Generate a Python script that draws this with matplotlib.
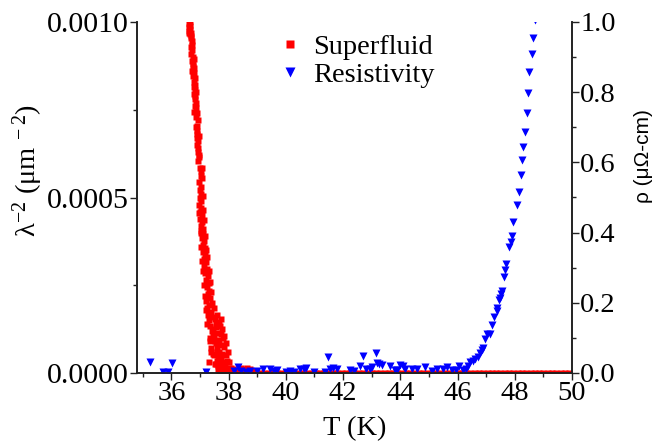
import numpy as np
import matplotlib
matplotlib.use("Agg")
import matplotlib.pyplot as plt
from matplotlib.ticker import MultipleLocator, FormatStrFormatter
from matplotlib.lines import Line2D

plt.rcParams['font.family'] = ['Liberation Serif', 'DejaVu Serif']
plt.rcParams['mathtext.fontset'] = 'custom'
plt.rcParams['mathtext.rm'] = 'Liberation Serif'
plt.rcParams['mathtext.it'] = 'Liberation Serif:italic'

# ---- Superfluid density (left axis), lambda^-2 in units of 1e-4 um^-2 ----
sf_T = [36.65, 36.62, 36.64, 36.60, 36.66, 36.63, 36.68, 36.65, 36.70, 36.67,
        36.72, 36.72, 36.73, 36.74, 36.73, 36.76, 36.74, 36.78, 36.76, 36.80,
        36.77, 36.81, 36.78, 36.82, 36.79, 36.83, 36.80, 36.84, 36.82, 36.86,
        36.83, 36.87, 36.88, 36.87, 36.89, 36.88, 36.91, 36.89, 36.93, 36.91,
        36.94, 36.92, 36.95, 36.93, 37.00, 37.04, 37.02, 37.05, 37.00, 37.03,
        36.99, 37.02, 36.98, 37.03, 37.00, 37.06, 37.01, 37.08, 37.03, 37.10,
        37.05, 37.12, 37.07, 37.14, 37.09, 37.16, 37.11, 37.18, 37.13, 37.22,
        37.15, 37.25, 37.18, 37.28, 37.20, 37.30, 37.24, 37.33, 37.27, 37.36,
        37.20, 37.30, 37.25, 37.40, 37.28, 37.45, 37.32, 37.52, 37.60, 37.66,
        37.70, 37.55, 37.35, 37.42, 37.62, 37.75, 37.48, 37.68, 37.80, 37.55,
        37.72, 37.40, 37.60, 37.85, 37.65, 37.78, 37.50, 37.90, 37.70, 37.58,
        37.82, 37.95, 37.62, 37.75, 37.88, 38.00, 37.68, 37.80, 37.92, 38.05,
        38.15, 38.30, 38.45, 38.55, 38.65, 38.75, 38.85, 37.46, 37.52, 37.58,
        37.64, 37.57, 37.63, 37.69, 37.74, 37.86, 37.93, 38.02, 38.10, 37.34,
        37.38, 37.31,
        36.62, 36.70, 36.68, 36.78, 36.72, 36.86, 36.80, 36.92, 36.85, 36.95,
        36.97, 37.06, 37.08, 36.98, 37.10, 36.97, 37.12, 37.15, 37.02, 37.18,
        37.05, 37.22, 37.08, 37.25, 37.10, 37.32, 37.15, 37.36, 37.18, 37.40,
        37.22, 37.42, 37.48, 37.26, 37.55, 37.72, 37.78, 37.45, 37.85, 37.35,
        37.92, 37.45, 37.98, 37.52, 38.02, 38.08, 38.20, 38.40, 38.60]
sf_val = [10.0, 9.95, 9.9, 9.85, 9.8, 9.75, 9.7, 9.65, 9.6, 9.55,
          9.45, 9.35, 9.2, 9.0, 8.9, 8.8, 8.75, 8.7, 8.6, 8.55,
          8.45, 8.4, 8.3, 8.2, 8.15, 8.05, 7.95, 7.9, 7.8, 7.7,
          7.6, 7.55, 7.4, 7.3, 7.05, 6.9, 6.8, 6.7, 6.6, 6.5,
          6.4, 6.3, 6.15, 6.05, 5.85, 5.75, 5.6, 5.3, 5.2, 5.1,
          5.0, 4.9, 4.8, 4.7, 4.6, 4.5, 4.4, 4.3, 4.2, 4.1,
          4.0, 3.95, 3.85, 3.75, 3.65, 3.55, 3.45, 3.35, 3.25, 3.15,
          3.05, 2.95, 2.85, 2.75, 2.65, 2.55, 2.45, 2.35, 2.25, 2.15,
          2.05, 1.95, 1.85, 1.75, 1.65, 1.6, 1.5, 1.55, 1.65, 1.45,
          1.35, 1.3, 1.35, 1.2, 1.15, 1.1, 1.0, 0.95, 1.0, 0.85,
          0.8, 0.7, 0.7, 0.75, 0.6, 0.55, 0.5, 0.5, 0.4, 0.35,
          0.3, 0.35, 0.2, 0.15, 0.2, 0.15, 0.05, 0.0, 0.05, 0.05,
          0.1, 0.05, 0.15, 0.1, 0.15, 0.1, 0.05, 1.25, 0.9, 0.6,
          0.45, 0.25, 0.1, 0.25, 0.45, 0.15, 0.1, 0.08, 0.04, 1.0,
          0.6, 0.3,
          9.7, 9.3, 9.1, 8.95, 8.6, 8.0, 7.45, 7.2, 7.0, 6.75,
          6.2, 5.85, 5.55, 5.45, 5.05, 4.55, 4.65, 4.35, 4.05, 3.9,
          3.6, 3.5, 3.2, 3.3, 2.9, 2.9, 2.5, 2.6, 2.2, 2.3,
          1.8, 2.0, 1.85, 1.4, 1.4, 1.55, 1.25, 1.1, 1.05, 0.9,
          0.85, 0.55, 0.6, 0.25, 0.3, 0.15, 0.08, 0.08, 0.05]
# zero tail of the superfluid signal above Tc
sf_tail_T = [38.95, 39.10, 39.25, 39.40, 39.55, 39.70, 39.85, 40.00, 40.15, 40.30,
             40.45, 40.60, 40.75, 40.90, 41.05, 41.20, 41.35, 41.50, 41.65, 41.80,
             41.95, 42.10, 42.25, 42.40, 42.55, 42.70, 42.85, 43.00, 43.15, 43.30,
             43.45, 43.60, 43.75, 43.90, 44.05, 44.20, 44.35, 44.50, 44.65, 44.80,
             44.95, 45.10, 45.25, 45.40, 45.55, 45.70, 45.85, 46.00, 46.15, 46.30,
             46.45, 46.60, 46.75, 46.90, 47.05, 47.20, 47.35, 47.50, 47.65, 47.80,
             47.95, 48.10, 48.25, 48.40, 48.55, 48.70, 48.85, 49.00, 49.15, 49.30,
             49.45, 49.60, 49.75, 49.90]
sf_tail_val = [0.0] * len(sf_tail_T)

# ---- Resistivity (right axis), uOhm-cm ----
rho_T = [35.27, 35.70, 35.90, 36.04, 37.20, 38.20, 38.33, 38.45, 38.60, 38.75,
         39.00, 39.20, 39.45, 39.60, 39.70, 40.00, 40.15, 40.30, 40.50, 40.65,
         40.70, 41.00, 41.37, 41.46, 41.55, 41.65, 41.80, 42.25, 42.40, 42.60,
         42.70, 42.80, 42.95, 43.00, 43.15, 43.17, 43.25, 43.35, 43.64, 43.80,
         43.90, 44.00, 44.10, 44.15, 44.40, 44.60, 44.85, 45.10, 45.30, 45.50,
         45.62, 45.80, 45.95, 46.05, 46.20, 46.30, 46.37, 46.44, 46.55, 46.62,
         46.70, 46.78, 46.85, 46.90, 46.96, 47.03, 47.12, 47.20, 47.28, 47.37,
         47.39, 47.45, 47.47, 47.51, 47.56, 47.63, 47.66, 47.70, 47.81, 47.86,
         47.90, 47.95, 48.08, 48.15, 48.21, 48.24, 48.28, 48.37, 48.42, 48.45,
         48.51, 48.60, 48.65, 48.70]
rho_val = [0.032, 0.004, 0.004, 0.029, 0.002, 0.006, 0.018, 0.005, 0.004, 0.006,
           0.005, 0.012, 0.010, 0.006, 0.009, 0.004, 0.005, 0.004, 0.012, 0.010,
           0.013, 0.004, 0.004, 0.046, 0.012, 0.015, 0.010, 0.008, 0.007, 0.020,
           0.048, 0.010, 0.012, 0.018, 0.056, 0.028, 0.025, 0.022, 0.020, 0.008,
           0.009, 0.022, 0.021, 0.010, 0.012, 0.010, 0.017, 0.006, 0.010, 0.010,
           0.018, 0.008, 0.008, 0.020, 0.009, 0.010, 0.020, 0.032, 0.035, 0.040,
           0.047, 0.057, 0.065, 0.072, 0.097, 0.110, 0.112, 0.137, 0.160, 0.177,
           0.184, 0.208, 0.213, 0.225, 0.234, 0.274, 0.293, 0.310, 0.358, 0.372,
           0.390, 0.431, 0.479, 0.517, 0.564, 0.607, 0.645, 0.686, 0.740, 0.797,
           0.858, 0.909, 0.953, 1.005]

x_ticks = [36, 38, 40, 42, 44, 46, 48, 50]

fig = plt.figure(figsize=(6.56, 4.44), dpi=100)
ax1 = fig.add_axes([137/656, 1-373/444, (572-137)/656, (373-22)/444])
ax2 = ax1.twinx()

sf_all_T = np.array(sf_T + sf_tail_T)
sf_all_val = np.array(sf_val + sf_tail_val) * 1e-4
ax1.plot(sf_all_T, sf_all_val, 's', color='#ff0000', ms=4.2, mec='none')
ax2.plot(rho_T, rho_val, 'v', color='#0000ff', ms=5.6, mec='none')

ax1.set_xlim(34.8, 50)
ax1.set_ylim(0, 0.001)
ax2.set_ylim(0, 1.0)

ax1.set_xticks(x_ticks)
ax1.xaxis.set_minor_locator(MultipleLocator(1))
ax1.set_yticks([0, 0.0005, 0.001])
ax1.yaxis.set_minor_locator(MultipleLocator(0.00025))
ax1.yaxis.set_major_formatter(FormatStrFormatter('%.4f'))
ax2.yaxis.set_major_locator(MultipleLocator(0.2))
ax2.yaxis.set_minor_locator(MultipleLocator(0.1))
ax2.yaxis.set_major_formatter(FormatStrFormatter('%.1f'))

for ax in (ax1, ax2):
    ax.spines['top'].set_visible(False)
    for s in ax.spines.values():
        s.set_linewidth(1.2)
        s.set_color('#222222')
    ax.tick_params(which='major', direction='out', length=5, width=1.0, labelsize=20.5, color='#222222', pad=1)
    ax.tick_params(which='minor', direction='out', length=3, width=1.0, color='#222222')
ax1.tick_params(axis='y', which='major', labelsize=21.5)

ax1.set_xlabel('T (K)', fontsize=20.5, labelpad=7)
ax1.set_ylabel(r'λ$^{\mathrm{-2}}$ (μm$^{\mathrm{\ -2}}$)', fontsize=20.5)
ax1.yaxis.set_label_coords(-0.212, 0.578)
ax2.set_ylabel('ρ (μΩ-cm)', fontsize=15, family=['Liberation Sans', 'DejaVu Sans'])
ax2.yaxis.set_label_coords(1.142, 0.618)

handles = [Line2D([], [], ls='none', marker='s', color='#ff0000', mec='none', ms=6),
           Line2D([], [], ls='none', marker='v', color='#0000ff', mec='none', ms=7.5)]
ax2.legend(handles, ['Superfluid', 'Resistivity'], loc='upper left',
           bbox_to_anchor=(276/656, 1-28/444), bbox_transform=fig.transFigure,
           frameon=False, fontsize=20.5, handlelength=0.6, handletextpad=0.5,
           labelspacing=0.1, borderpad=0.2, borderaxespad=0)

fig.savefig('out.png', dpi=100)
